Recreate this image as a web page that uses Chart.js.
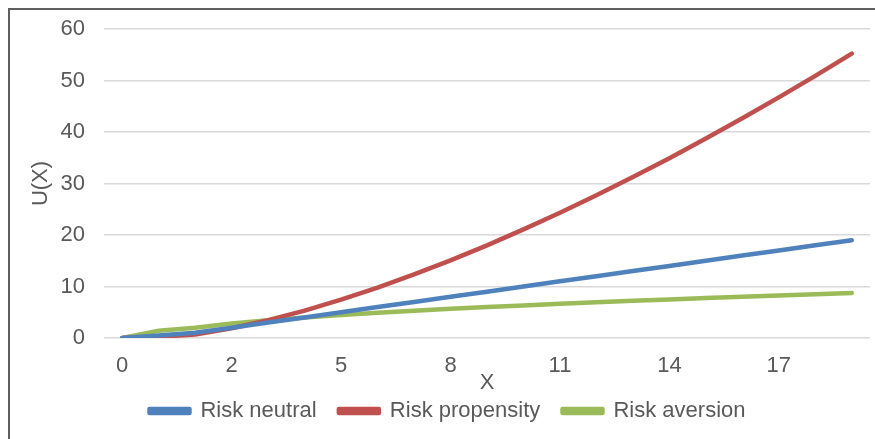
<!DOCTYPE html>
<html>
<head>
<meta charset="utf-8">
<script src="https://cdn.jsdelivr.net/npm/chart.js@4/dist/chart.umd.min.js"></script>
<style>
  html, body { margin: 0; padding: 0; background: #fff; }
  #wrap { position: relative; width: 875px; height: 439px; overflow: hidden; }
  #frame { position: absolute; left: 8px; top: 8px; width: 900px; height: 500px;
           border-left: 2px solid #5f5f5f; border-top: 2px solid #5f5f5f; box-sizing: border-box; pointer-events: none; }
  canvas { position: absolute; left: 0; top: 0; }
</style>
</head>
<body>
<div id="wrap">
  <canvas id="c" width="875" height="439"></canvas>
  <div id="frame"></div>
</div>
<script>
const categories = [0, 0.5, 1, 2, 3, 4, 5, 6, 7, 8, 9, 10, 11, 12, 13, 14, 15, 16, 17, 18, 19];
const riskNeutral = [0, 0.5, 1, 2, 3, 4, 5, 6, 7, 8, 9, 10, 11, 12, 13, 14, 15, 16, 17, 18, 19];
const riskPropensity = [0, 0.24, 0.67, 1.89, 3.46, 5.33, 7.45, 9.80, 12.35, 15.08, 18.0, 21.08, 24.32, 27.71, 31.25, 34.92, 38.73, 42.67, 46.73, 50.91, 55.21];
const riskAversion = [0, 1.41, 2.0, 2.83, 3.46, 4.0, 4.47, 4.90, 5.29, 5.66, 6.0, 6.32, 6.63, 6.93, 7.21, 7.48, 7.75, 8.0, 8.25, 8.49, 8.72];
const yTicks = [0, 10, 20, 30, 40, 50, 60];
const seriesNames = ['Risk neutral', 'Risk propensity', 'Risk aversion'];

const FONT = "'Liberation Sans', Arial, sans-serif";
const TXT = '#595959';
const FS = 22;

new Chart(document.getElementById('c'), {
  type: 'line',
  data: {
    labels: categories.map(String),
    datasets: [
      { label: seriesNames[0], data: riskNeutral, borderColor: '#4F81BD', backgroundColor: '#4F81BD' },
      { label: seriesNames[1], data: riskPropensity, borderColor: '#C0504D', backgroundColor: '#C0504D' },
      { label: seriesNames[2], data: riskAversion, borderColor: '#9BBB59', backgroundColor: '#9BBB59' }
    ].map(d => Object.assign(d, { borderWidth: 4.5, pointRadius: 0, tension: 0, fill: false, borderCapStyle: 'round', borderJoinStyle: 'round' }))
  },
  options: {
    responsive: false,
    animation: false,
    layout: { padding: { left: 25, right: 5, top: 29, bottom: 7 } },
    plugins: {
      tooltip: { enabled: false },
      legend: {
        position: 'bottom',
        labels: {
          font: { family: FONT, size: FS },
          color: TXT,
          boxWidth: 40,
          boxHeight: 4,
          padding: 10,
          generateLabels: function(chart) {
            const items = Chart.defaults.plugins.legend.labels.generateLabels(chart);
            items.forEach((it, i) => { if (i < items.length - 1) it.text = it.text + '  '; });
            return items;
          }
        }
      }
    },
    scales: {
      x: {
        offset: true,
        grid: { display: false, drawTicks: false },
        border: { display: false },
        ticks: {
          autoSkip: false, maxRotation: 0, padding: 15,
          font: { family: FONT, size: FS }, color: TXT,
          callback: function(v, i) { return i % 3 === 0 ? categories[i] : ''; }
        },
        title: { display: true, text: 'X', font: { family: FONT, size: FS }, color: TXT, padding: { top: 0, bottom: -6 } },
        afterFit: function(s) { s.height = 52; }
      },
      y: {
        min: 0, max: 60,
        afterBuildTicks: function(s) { s.ticks = yTicks.map(v => ({ value: v })); },
        grid: { color: '#D9D9D9', lineWidth: 1.5, drawTicks: false },
        border: { display: false },
        ticks: { padding: 19, font: { family: FONT, size: FS }, color: TXT },
        title: { display: true, text: 'U(X)', font: { family: FONT, size: FS }, color: TXT, padding: { top: 3, bottom: 3 } },
        afterFit: function(s) { s.width = 79; s.paddingTop = 0; s.paddingBottom = 0; }
      }
    }
  }
});
</script>
</body>
</html>
